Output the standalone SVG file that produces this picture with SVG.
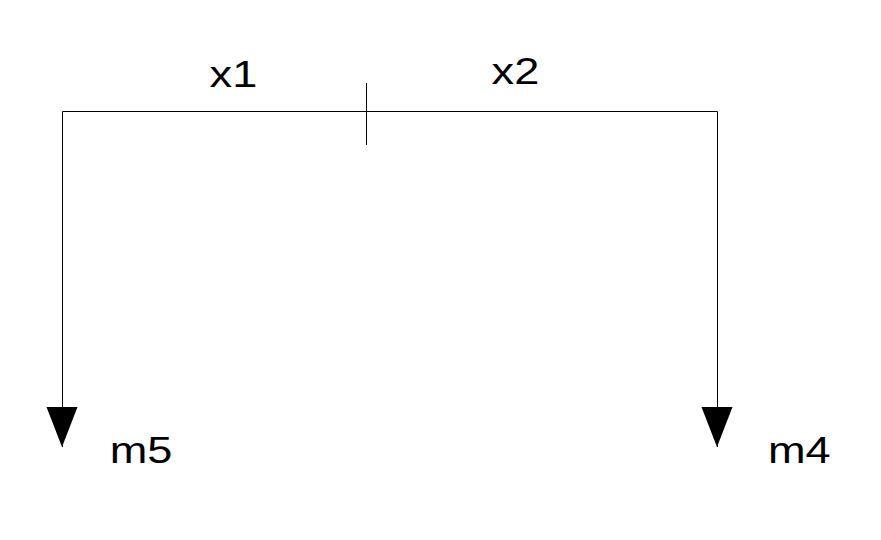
<svg xmlns="http://www.w3.org/2000/svg" width="881" height="540" viewBox="0 0 881 540">
<style>
.ln{stroke:#000;stroke-width:1;fill:none}
.lb{font-family:"Liberation Sans",Arial,sans-serif;font-size:37px;fill:#000}
</style>
<rect width="881" height="540" fill="#fff"/>
<g id="connectors">
<path class="ln" d="M62.5,447 V111.5 H717.5 V447"/>
<line class="ln" x1="366.5" y1="83" x2="366.5" y2="145"/>
<path d="M46.5,407 L77.5,407 L62,447 Z" fill="#000"/>
<path d="M701.5,407 L732.5,407 L717,447 Z" fill="#000"/>
</g>
<g id="x1"><text class="lb" transform="translate(209.6,87) scale(1.22,1)">x1</text></g>
<g id="x2"><text class="lb" transform="translate(491.6,84) scale(1.22,1)">x2</text></g>
<g id="m5"><text class="lb" transform="translate(109.7,463) scale(1.22,1)">m5</text></g>
<g id="m4"><text class="lb" transform="translate(768,463) scale(1.22,1)">m4</text></g>
</svg>
